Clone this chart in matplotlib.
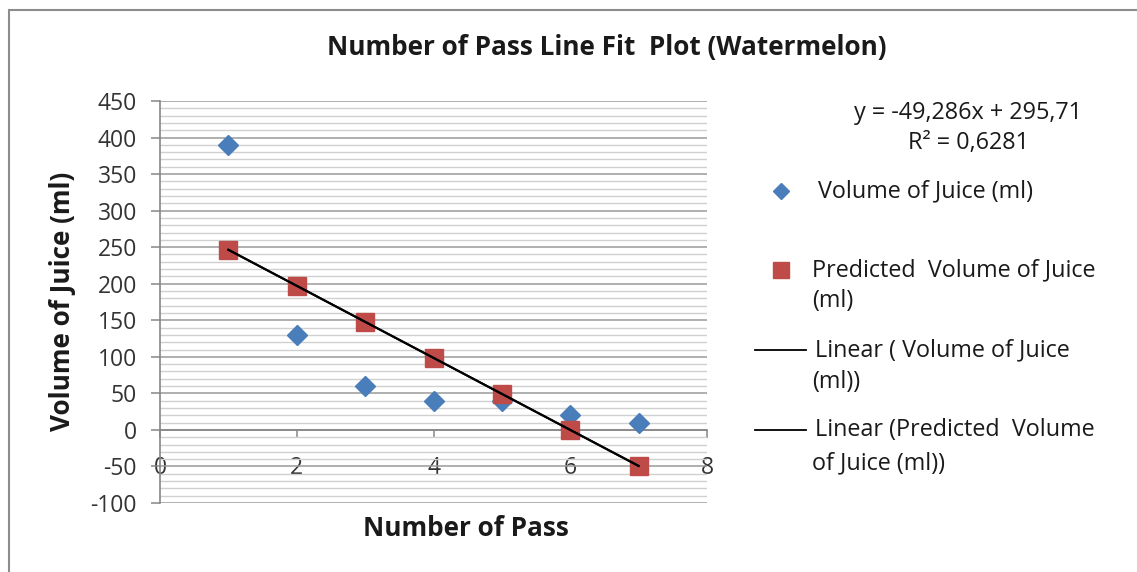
import numpy as np
import matplotlib
matplotlib.use("Agg")
import matplotlib.pyplot as plt
from matplotlib.lines import Line2D
from matplotlib.patches import Rectangle

plt.rcParams['font.family'] = ['Open Sans', 'DejaVu Sans']

# passes through the juicer vs. juice collected
passes = [1, 2, 3, 4, 5, 6, 7]
volume = [390, 130, 60, 40, 40, 20, 10]
predicted = [246.43, 197.14, 147.86, 98.57, 49.29, 0.0, -49.29]

y_ticks = [-100, -50, 0, 50, 100, 150, 200, 250, 300, 350, 400, 450]
x_ticks = [0, 2, 4, 6, 8]

BLUE = '#4A7EBB'
RED = '#BE4B48'
AXIS_GREY = '#868686'
TXT = '#1A1A1A'
FS = 16.8       # legend / equation text
TICK_FS = 16.5
BOLD_FS = 18.8

W, H = 1137, 572
fig = plt.figure(figsize=(W / 100, H / 100), dpi=100)

# outer chart frame (only top/left edges fall inside the canvas)
fig.patches.append(Rectangle((9 / W, -0.1), 1.2, 1 - 10 / H + 0.1, transform=fig.transFigure,
                             fill=False, edgecolor='#8C8C8C', linewidth=1.5))

ax = fig.add_axes([160 / W, 1 - 503 / H, (707 - 160) / W, (503 - 101) / H])
ax.set_xlim(0, 8)
ax.set_ylim(-100, 450)

# grid: minor every 10, major every 50
ax.set_yticks(y_ticks)
ax.set_yticks(np.arange(-100, 451, 10), minor=True)
ax.yaxis.grid(True, which='major', color='#9A9A9A', linewidth=1.1, zorder=0)
ax.yaxis.grid(True, which='minor', color='#D0D0D0', linewidth=1.0, zorder=0)
ax.set_axisbelow(True)

ax.set_xticks(x_ticks)
ax.set_xticklabels([str(t) for t in x_ticks])
ax.set_yticklabels([str(t) for t in y_ticks])

for s in ['top', 'right']:
    ax.spines[s].set_visible(False)
ax.spines['bottom'].set_position(('data', 0))
for s in ['bottom', 'left']:
    ax.spines[s].set_color(AXIS_GREY)
    ax.spines[s].set_linewidth(1.2)

ax.tick_params(axis='y', which='major', direction='out', length=6.5, width=1.1, color=AXIS_GREY,
               pad=10, labelsize=TICK_FS, labelcolor='#333333')
ax.tick_params(axis='y', which='minor', length=0)
ax.tick_params(axis='x', direction='out', length=6, width=1.1, color=AXIS_GREY,
               pad=12.5, labelsize=TICK_FS, labelcolor='#333333')

# data
ax.plot(passes, volume, linestyle='none', marker='D', markersize=10.5,
        color=BLUE, zorder=3, clip_on=False)
ax.plot(passes, predicted, linestyle='none', marker='s', markersize=13,
        color=RED, zorder=4, clip_on=False)

# linear trendlines
xs = np.array([passes[0], passes[-1]])
for series in (volume, predicted):
    k, b = np.polyfit(passes, series, 1)
    ax.plot(xs, k * xs + b, color='black', linewidth=1.5, zorder=5)

# titles
fig.text(607 / W, 1 - 47 / H, 'Number of Pass Line Fit  Plot (Watermelon)',
         ha='center', va='center', fontsize=BOLD_FS, fontweight='bold', color=TXT)
fig.text(466 / W, 1 - 529 / H, 'Number of Pass', ha='center', va='center',
         fontsize=BOLD_FS, fontweight='bold', color=TXT)
fig.text(63 / W, 1 - 301 / H, 'Volume of Juice (ml)', ha='center', va='center',
         rotation=90, fontsize=BOLD_FS, fontweight='bold', color=TXT)

# trendline equation
fig.text(968 / W, 1 - 113 / H, 'y = -49,286x + 295,71', ha='center', va='center',
         fontsize=FS, color=TXT)
fig.text(968 / W, 1 - 143 / H, 'R² = 0,6281', ha='center', va='center',
         fontsize=FS, color=TXT)

# legend
def fx(px):
    return px / W

def fy(py):
    return 1 - py / H

fig.lines.append(Line2D([fx(781)], [fy(191)], marker='D', markersize=8, color=BLUE,
                        linestyle='none', transform=fig.transFigure))
fig.text(fx(818), fy(191), 'Volume of Juice (ml)', va='center', fontsize=FS, color=TXT)

fig.lines.append(Line2D([fx(781)], [fy(270)], marker='s', markersize=11, color=RED,
                        linestyle='none', transform=fig.transFigure))
fig.text(fx(812), fy(270), 'Predicted  Volume of Juice', va='center', fontsize=FS, color=TXT)
fig.text(fx(812), fy(301), '(ml)', va='center', fontsize=FS, color=TXT)

fig.lines.append(Line2D([fx(755), fx(806)], [fy(350), fy(350)], color='black', linewidth=1.3,
                        transform=fig.transFigure))
fig.text(fx(815), fy(350), 'Linear ( Volume of Juice', va='center', fontsize=FS, color=TXT)
fig.text(fx(812), fy(382), '(ml))', va='center', fontsize=FS, color=TXT)

fig.lines.append(Line2D([fx(755), fx(806)], [fy(430), fy(430)], color='black', linewidth=1.3,
                        transform=fig.transFigure))
fig.text(fx(815), fy(430), 'Linear (Predicted  Volume', va='center', fontsize=FS, color=TXT)
fig.text(fx(812), fy(463), 'of Juice (ml))', va='center', fontsize=FS, color=TXT)

fig.savefig('out.png', dpi=100)
